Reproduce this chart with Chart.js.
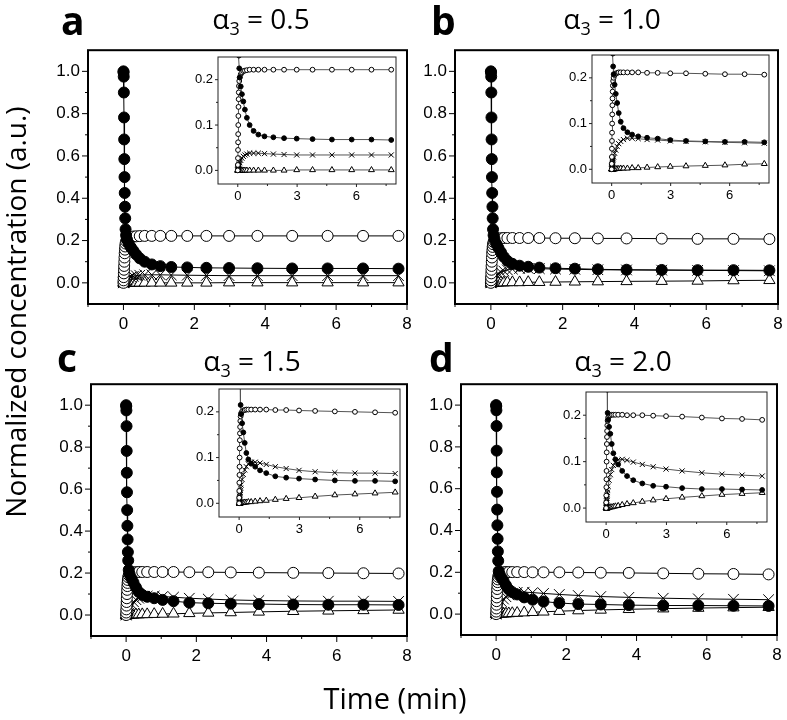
<!DOCTYPE html>
<html><head><meta charset="utf-8"><title>Normalized concentration vs time</title>
<script src="https://cdn.jsdelivr.net/npm/chart.js@4.4.1/dist/chart.umd.min.js"></script>
<style>
html,body{margin:0;padding:0;background:#fff;}
#wrap{position:relative;width:787px;height:720px;overflow:hidden;background:#fff;}
canvas{position:absolute;}
#txt{position:absolute;left:0;top:0;z-index:10;pointer-events:none;font-family:"Open Sans","Noto Sans",sans-serif;}
</style></head><body><div id="wrap">
<svg id="txt" width="787" height="720">
  <text x="61" y="35" font-size="39" font-weight="700">a</text>
  <text x="431" y="35" font-size="39" font-weight="700">b</text>
  <text x="57" y="372" font-size="39" font-weight="700">c</text>
  <text x="429" y="372" font-size="39" font-weight="700">d</text>
  <text x="261" y="29" font-size="28" text-anchor="middle">α<tspan font-size="18" dy="6">3</tspan><tspan dy="-6"> = 0.5</tspan></text>
  <text x="612" y="29" font-size="28" text-anchor="middle">α<tspan font-size="18" dy="6">3</tspan><tspan dy="-6"> = 1.0</tspan></text>
  <text x="252" y="371" font-size="28" text-anchor="middle">α<tspan font-size="18" dy="6">3</tspan><tspan dy="-6"> = 1.5</tspan></text>
  <text x="623" y="371" font-size="28" text-anchor="middle">α<tspan font-size="18" dy="6">3</tspan><tspan dy="-6"> = 2.0</tspan></text>
  <text transform="translate(26,312) rotate(-90)" font-size="28" text-anchor="middle">Normalized concentration (a.u.)</text>
  <text x="395" y="709" font-size="29" text-anchor="middle">Time (min)</text>
</svg>
</div>
<script>
// ---------------- data ----------------
const T = [0,0.004,0.008,0.012,0.016,0.02,0.025,0.03,0.036,0.043,0.05,0.06,0.075,
  0.1,0.15,0.21,0.28,0.36,0.46,0.6,0.8,1.04,1.35,1.8,2.34,2.98,3.78,4.76,5.76,6.76,7.76];

const filledA = [1.0,0.995,0.975,0.9,0.782,0.678,0.585,0.5,0.425,0.36,0.305,0.253,0.225,
  0.205,0.185,0.168,0.152,0.134,0.116,0.1,0.087,0.079,0.075,0.073,0.071,0.070,0.069,0.068,0.068,0.068,0.067];
const openA = [0,0.012,0.027,0.045,0.062,0.08,0.1,0.12,0.14,0.157,0.172,0.186,0.197,
  0.205,0.212,0.216,0.219,0.22,0.221,0.222,0.222,0.222,0.222,0.222,0.222,0.222,0.222,0.222,0.222,0.222,0.222];
const crossA = [0,0.001,0.002,0.003,0.004,0.005,0.006,0.007,0.008,0.009,0.01,0.012,0.014,
  0.017,0.022,0.027,0.031,0.034,0.036,0.038,0.038,0.038,0.037,0.036,0.035,0.034,0.034,0.034,0.034,0.034,0.034];
const triA = [0,0,0,0,0,0,0,0,0,0,0,0,0,
  0,0,0,0,0,0,0,0,0,0,0,0,0.001,0.001,0.001,0.001,0.001,0.001];

const filledB = [1.0,0.995,0.975,0.9,0.782,0.678,0.585,0.5,0.425,0.36,0.305,0.253,0.225,
  0.208,0.185,0.165,0.145,0.123,0.104,0.09,0.081,0.076,0.072,0.069,0.067,0.064,0.062,0.061,0.06,0.06,0.059];
const openB = [0,0.012,0.027,0.045,0.062,0.08,0.1,0.12,0.14,0.155,0.17,0.183,0.193,
  0.2,0.206,0.209,0.211,0.212,0.212,0.212,0.212,0.212,0.212,0.211,0.211,0.21,0.21,0.209,0.208,0.208,0.207];
const crossB = [0,0.001,0.003,0.004,0.006,0.007,0.009,0.011,0.013,0.015,0.017,0.02,0.023,
  0.027,0.035,0.042,0.05,0.056,0.061,0.065,0.068,0.068,0.067,0.065,0.064,0.062,0.061,0.06,0.059,0.058,0.057];
const triB = [0,0,0,0,0,0,0,0,0,0,0,0,0,
  0,0,0.001,0.001,0.001,0.002,0.002,0.002,0.003,0.003,0.004,0.005,0.006,0.007,0.008,0.009,0.011,0.012];

const filledC = [1.0,0.995,0.975,0.9,0.782,0.678,0.585,0.5,0.425,0.36,0.3,0.26,0.215,
  0.195,0.175,0.155,0.132,0.11,0.096,0.087,0.08,0.072,0.066,0.059,0.056,0.054,0.052,0.05,0.049,0.049,0.048];
const openC = [0,0.012,0.027,0.045,0.062,0.08,0.1,0.12,0.138,0.153,0.167,0.18,0.19,
  0.197,0.201,0.203,0.204,0.205,0.205,0.205,0.205,0.205,0.205,0.204,0.204,0.203,0.202,0.201,0.2,0.199,0.198];
const crossC = [0,0.002,0.004,0.006,0.008,0.01,0.012,0.015,0.018,0.021,0.024,0.028,0.033,
  0.04,0.052,0.063,0.073,0.08,0.086,0.09,0.09,0.088,0.085,0.08,0.076,0.072,0.069,0.067,0.066,0.066,0.065];
const triC = [0,0,0,0,0,0,0,0,0,0,0,0,0,
  0.001,0.001,0.001,0.002,0.002,0.003,0.003,0.004,0.005,0.006,0.008,0.01,0.012,0.015,0.018,0.02,0.022,0.024];

const filledD = [1.0,0.995,0.975,0.9,0.782,0.678,0.585,0.5,0.425,0.36,0.3,0.255,0.205,
  0.19,0.175,0.16,0.138,0.118,0.105,0.094,0.08,0.069,0.06,0.053,0.048,0.046,0.043,0.041,0.041,0.04,0.039];
const openD = [0,0.012,0.027,0.045,0.062,0.08,0.1,0.12,0.138,0.153,0.166,0.178,0.188,
  0.195,0.198,0.2,0.201,0.201,0.201,0.201,0.201,0.2,0.2,0.2,0.199,0.198,0.197,0.195,0.193,0.192,0.19];
const crossD = [0,0.002,0.005,0.007,0.01,0.012,0.015,0.018,0.021,0.025,0.029,0.034,0.04,
  0.047,0.06,0.072,0.083,0.092,0.099,0.104,0.105,0.103,0.099,0.094,0.089,0.084,0.08,0.076,0.073,0.071,0.069];
const triD = [0,0,0,0,0,0,0,0,0,0,0,0,0,
  0.001,0.001,0.002,0.002,0.003,0.004,0.005,0.007,0.009,0.011,0.014,0.017,0.02,0.023,0.026,0.029,0.031,0.033];

// tick labels
const mainXLabels = [0,2,4,6,8];
const mainXMinor  = [-1,1,3,5,7];
const mainYLabels = [0,0.2,0.4,0.6,0.8,1.0];
const mainYMinor  = [0.1,0.3,0.5,0.7,0.9];
const insetXLabels = [0,3,6];
const insetXMinor  = [1.5,4.5,7.5];
const insetYLabels = [0,0.1,0.2];
const insetYMinor  = [0.05,0.15];

// ---------------- layout ----------------
const panels = [
  {frame:[88,48,407,304],  inset:[218,57,396,184], s:[filledA,openA,crossA,triA]},
  {frame:[455,48,778,304], inset:[592,55,769,183], s:[filledB,openB,crossB,triB]},
  {frame:[91,382,407,636], inset:[219,389,400,517], s:[filledC,openC,crossC,triC]},
  {frame:[461,382,777,635],inset:[586,392,767,522], s:[filledD,openD,crossD,triD]}
];

const wrap = document.getElementById('wrap');
const PAD = {top:10,right:12,bottom:0,left:0};

function xy(ys){ return T.map((t,i)=>({x:t,y:ys[i]})); }

function framePlugin(cfg){
  return {
    id:'frame'+Math.random().toString(36).slice(2),
    beforeDraw(chart){
      if(!cfg.fill) return;
      const a = chart.chartArea, ctx = chart.ctx;
      ctx.save(); ctx.fillStyle='#fff';
      ctx.fillRect(a.left,a.top,a.right-a.left,a.bottom-a.top); ctx.restore();
    },
    afterDraw(chart){
      const {ctx, chartArea:a, scales:{x,y}} = chart;
      ctx.save();
      ctx.strokeStyle = cfg.color; ctx.lineWidth = cfg.lw;
      ctx.strokeRect(a.left, a.top, a.right-a.left, a.bottom-a.top);
      ctx.lineWidth = cfg.tw;
      x.ticks.forEach(t=>{
        const px = x.getPixelForValue(t.value);
        const len = cfg.xl.includes(t.value) ? cfg.maj : cfg.min;
        ctx.beginPath(); ctx.moveTo(px,a.bottom); ctx.lineTo(px,a.bottom+len); ctx.stroke();
      });
      y.ticks.forEach(t=>{
        const py = y.getPixelForValue(t.value);
        const len = cfg.yl.includes(t.value) ? cfg.maj : cfg.min;
        ctx.beginPath(); ctx.moveTo(a.left,py); ctx.lineTo(a.left-len,py); ctx.stroke();
      });
      ctx.restore();
    }
  };
}

function axis(dir,min,max,labels,minor,fsize,tl,pad,size,fmt){
  return {
    type:'linear', min, max, position: dir==='x'?'bottom':'left',
    afterBuildTicks: s => { s.ticks = labels.concat(minor).sort((p,q)=>p-q).map(v=>({value:v})); },
    afterFit: s => { if(dir==='x') s.height = size; else s.width = size; },
    grid:{display:false, drawTicks:true, tickLength:tl},
    border:{display:false},
    ticks:{autoSkip:false, maxRotation:0, minRotation:0, padding:pad, color:'#000',
      font:{family:'"Liberation Sans", Arial, sans-serif', size:fsize},
      callback: v => labels.includes(v) ? fmt(v) : ''}
  };
}

function makeChart(rect, series, inset){
  const [L,Tp,R,B] = rect;
  const yW = inset ? 30 : 50, xH = inset ? 20 : 32;
  const cv = document.createElement('canvas');
  const w = (R-L) + yW + PAD.left + PAD.right;
  const h = (B-Tp) + xH + PAD.top + PAD.bottom;
  cv.width = w; cv.height = h;
  cv.style.left = (L - yW - PAD.left)+'px';
  cv.style.top = (Tp - PAD.top)+'px';
  cv.style.width = w+'px'; cv.style.height = h+'px';
  cv.style.zIndex = inset ? 3 : 1;
  wrap.appendChild(cv);
  const r = inset ? {c:2.4,x:3.6,t:3.4} : {c:5.5,x:7.5,t:6.5};
  const line = inset ? '#555' : '#000';
  const base = {showLine:true, borderWidth:1, pointBorderWidth:1, tension:0, fill:false, borderColor:line, pointBorderColor:'#000'};
  if(inset) base.clip = 0;
  const ds = [
    {data:xy(series[0]), pointStyle:'circle', pointRadius:r.c, pointBackgroundColor:'#000'},
    {data:xy(series[1]), pointStyle:'circle', pointRadius:r.c, pointBackgroundColor:'#fff'},
    {data:xy(series[2]), pointStyle:'crossRot', pointRadius:r.x, pointBackgroundColor:'#000'},
    {data:xy(series[3]), pointStyle:'triangle', pointRadius:r.t, pointBackgroundColor:'#fff'}
  ].map(d=>Object.assign({}, base, d));
  const scales = inset ? {
    x: axis('x',-1,8,insetXLabels,insetXMinor,13,3,2,xH,v=>String(v)),
    y: axis('y',-0.03,0.25,insetYLabels,insetYMinor,13,3,2,yW,v=>v.toFixed(1))
  } : {
    x: axis('x',-1,8,mainXLabels,mainXMinor,17,6,4,xH,v=>String(v)),
    y: axis('y',-0.1,1.1,mainYLabels,mainYMinor,17,6,2,yW,v=>v.toFixed(1))
  };
  new Chart(cv, {
    type:'scatter',
    data:{datasets:ds},
    options:{
      responsive:false, animation:false, devicePixelRatio:1,
      layout:{padding:PAD, autoPadding:false},
      plugins:{legend:{display:false}, tooltip:{enabled:false}},
      events:[],
      scales
    },
    plugins:[framePlugin({fill:inset, color: inset?'#222':'#000', lw: inset?1:2, tw:1,
      maj: inset?3:6, min: inset?2:3,
      xl: inset?insetXLabels:mainXLabels, yl: inset?insetYLabels:mainYLabels})]
  });
}

panels.forEach(p=>{
  makeChart(p.frame, p.s, false);
  makeChart(p.inset, p.s, true);
});
</script>
</body></html>
